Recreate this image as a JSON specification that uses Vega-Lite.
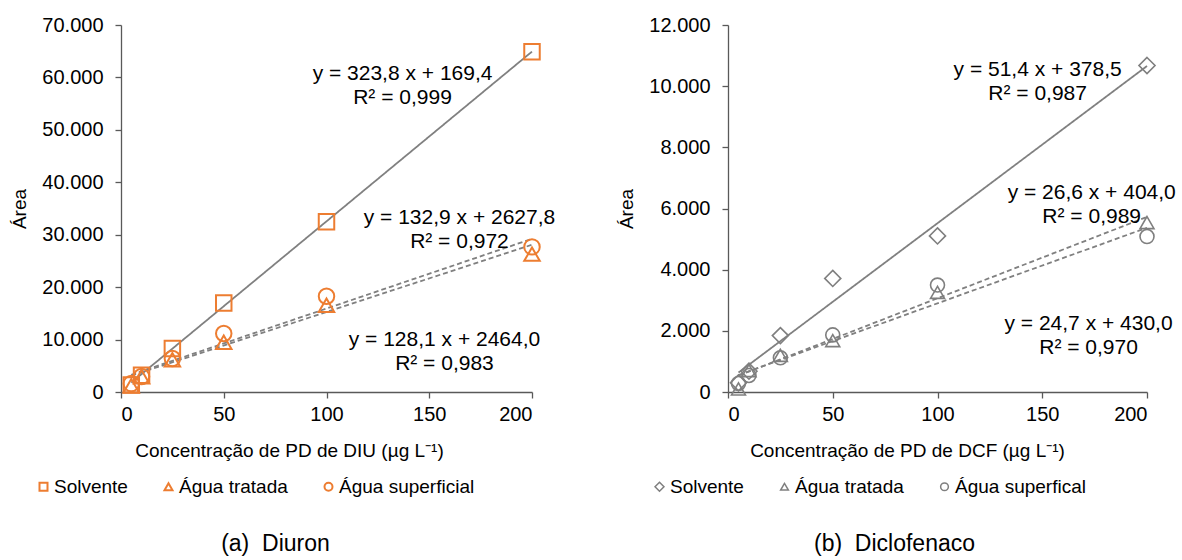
{
  "$schema": "https://vega.github.io/schema/vega-lite/v6.json",
  "background": "white",
  "padding": {"left": 10, "top": 15, "right": 0, "bottom": 0},
  "spacing": 61,
  "resolve": {"scale": {"shape": "independent", "strokeDash": "independent"}, "legend": {"shape": "independent"}},
  "config": {
    "locale": {"number": {"decimal": ",", "thousands": ".", "grouping": [3], "currency": ["", ""]}},
    "font": "Liberation Sans",
    "view": {"stroke": null},
    "axis": {
      "labelFont": "Liberation Sans", "labelFontSize": 20, "labelColor": "#000",
      "titleFont": "Liberation Sans", "titleFontSize": 19, "titleFontWeight": "normal", "titleColor": "#000",
      "domainColor": "#595959", "tickColor": "#595959", "domainWidth": 1.3, "tickWidth": 1.3,
      "tickSize": 6, "grid": false
    },
    "legend": {
      "labelFont": "Liberation Sans", "labelFontSize": 19, "labelColor": "#000",
      "direction": "horizontal", "orient": "none", "columnPadding": 31, "labelOffset": 1
    },
    "title": {"font": "Liberation Sans", "fontSize": 23, "fontWeight": "normal", "color": "#000"}
  },
  "datasets": {
    "diu_pts": [
      {"x": 5, "y": 1340, "serie": "Solvente"},
      {"x": 10, "y": 3190, "serie": "Solvente"},
      {"x": 25, "y": 8290, "serie": "Solvente"},
      {"x": 50, "y": 16990, "serie": "Solvente"},
      {"x": 100, "y": 32450, "serie": "Solvente"},
      {"x": 200, "y": 64900, "serie": "Solvente"},
      {"x": 5, "y": 1200, "serie": "Água tratada"},
      {"x": 10, "y": 2900, "serie": "Água tratada"},
      {"x": 25, "y": 6150, "serie": "Água tratada"},
      {"x": 50, "y": 9500, "serie": "Água tratada"},
      {"x": 100, "y": 16550, "serie": "Água tratada"},
      {"x": 200, "y": 26290, "serie": "Água tratada"},
      {"x": 5, "y": 1600, "serie": "Água superficial"},
      {"x": 10, "y": 2950, "serie": "Água superficial"},
      {"x": 25, "y": 6380, "serie": "Água superficial"},
      {"x": 50, "y": 11150, "serie": "Água superficial"},
      {"x": 100, "y": 18270, "serie": "Água superficial"},
      {"x": 200, "y": 27680, "serie": "Água superficial"}
    ],
    "diu_lines": [
      {"x": 5, "y": 1788.4, "fit": "s", "tipo": "solid"},
      {"x": 200, "y": 64929.4, "fit": "s", "tipo": "solid"},
      {"x": 5, "y": 3104.5, "fit": "t", "tipo": "dashed"},
      {"x": 200, "y": 28084, "fit": "t", "tipo": "dashed"},
      {"x": 5, "y": 3292.3, "fit": "u", "tipo": "dashed"},
      {"x": 200, "y": 29207.8, "fit": "u", "tipo": "dashed"}
    ],
    "diu_eq": [
      {"x": 137, "y": 60650, "label": "y = 323,8 x + 169,4\nR² = 0,999"},
      {"x": 164.7, "y": 33260, "label": "y = 132,9 x + 2627,8\nR² = 0,972"},
      {"x": 157.4, "y": 9870, "label": "y = 128,1 x + 2464,0\nR² = 0,983"}
    ],
    "dcf_pts": [
      {"x": 5, "y": 300, "serie": "Solvente"},
      {"x": 10, "y": 680, "serie": "Solvente"},
      {"x": 25, "y": 1844, "serie": "Solvente"},
      {"x": 50, "y": 3714, "serie": "Solvente"},
      {"x": 100, "y": 5103, "serie": "Solvente"},
      {"x": 200, "y": 10675, "serie": "Solvente"},
      {"x": 5, "y": 100, "serie": "Água tratada"},
      {"x": 10, "y": 700, "serie": "Água tratada"},
      {"x": 25, "y": 1200, "serie": "Água tratada"},
      {"x": 50, "y": 1681, "serie": "Água tratada"},
      {"x": 100, "y": 3258, "serie": "Água tratada"},
      {"x": 200, "y": 5540, "serie": "Água tratada"},
      {"x": 5, "y": 280, "serie": "Água superfical"},
      {"x": 10, "y": 540, "serie": "Água superfical"},
      {"x": 25, "y": 1118, "serie": "Água superfical"},
      {"x": 50, "y": 1867, "serie": "Água superfical"},
      {"x": 100, "y": 3496, "serie": "Água superfical"},
      {"x": 200, "y": 5083, "serie": "Água superfical"}
    ],
    "dcf_lines": [
      {"x": 5, "y": 635.5, "fit": "s", "tipo": "solid"},
      {"x": 200, "y": 10658.5, "fit": "s", "tipo": "solid"},
      {"x": 5, "y": 537, "fit": "t", "tipo": "dashed"},
      {"x": 200, "y": 5724, "fit": "t", "tipo": "dashed"},
      {"x": 5, "y": 553.5, "fit": "u", "tipo": "dashed"},
      {"x": 200, "y": 5370, "fit": "u", "tipo": "dashed"}
    ],
    "dcf_eq": [
      {"x": 147.8, "y": 10518, "label": "y = 51,4 x + 378,5\nR² = 0,987"},
      {"x": 173.6, "y": 6494, "label": "y = 26,6 x + 404,0\nR² = 0,989"},
      {"x": 172.1, "y": 2225, "label": "y = 24,7 x + 430,0\nR² = 0,970"}
    ]
  },
  "hconcat": [
    {
      "width": 411,
      "height": 367,
      "title": {"text": "(a)\u00a0 Diuron", "orient": "bottom", "anchor": "middle", "frame": "group", "dx": -51, "offset": 36},
      "layer": [
        {
          "data": {"name": "diu_lines"},
          "mark": {"type": "line", "color": "#808080", "strokeWidth": 1.8},
          "encoding": {
            "x": {"field": "x", "type": "quantitative", "scale": {"domain": [0, 200], "nice": false},
                  "axis": {"values": [0, 50, 100, 150, 200], "title": "Concentração de PD de DIU (µg L⁻¹)", "labelPadding": 6, "titlePadding": 17, "titleX": 168, "titleAnchor": null}},
            "y": {"field": "y", "type": "quantitative", "scale": {"domain": [0, 70000], "nice": false},
                  "axis": {"values": [0, 10000, 20000, 30000, 40000, 50000, 60000, 70000], "format": ",d", "title": "Área", "labelPadding": 12, "titlePadding": 12}},
            "detail": {"field": "fit"},
            "strokeDash": {"field": "tipo", "type": "nominal", "scale": {"domain": ["solid", "dashed"], "range": [[1, 0], [5, 3]]}, "legend": null}
          }
        },
        {
          "data": {"name": "diu_pts"},
          "mark": {"type": "point", "filled": false, "color": "#ED7D31", "strokeWidth": 2, "opacity": 1, "size": 240},
          "encoding": {
            "x": {"field": "x", "type": "quantitative"},
            "y": {"field": "y", "type": "quantitative"},
            "shape": {"field": "serie", "type": "nominal",
                      "scale": {"domain": ["Solvente", "Água tratada", "Água superficial"], "range": ["square", "triangle-up", "circle"]},
                      "legend": {"title": null, "legendX": -87, "legendY": 452, "symbolSize": 64, "symbolStrokeWidth": 2, "symbolStrokeColor": "#ED7D31", "symbolFillColor": "transparent"}}
          }
        },
        {
          "data": {"name": "diu_eq"},
          "mark": {"type": "text", "fontSize": 21, "lineBreak": "\n", "lineHeight": 24, "align": "center", "baseline": "middle", "color": "#000", "font": "Liberation Sans"},
          "encoding": {
            "x": {"field": "x", "type": "quantitative"},
            "y": {"field": "y", "type": "quantitative"},
            "text": {"field": "label"}
          }
        }
      ]
    },
    {
      "width": 419,
      "height": 367,
      "title": {"text": "(b)\u00a0 Diclofenaco", "orient": "bottom", "anchor": "middle", "frame": "group", "dx": -43, "offset": 36},
      "layer": [
        {
          "data": {"name": "dcf_lines"},
          "mark": {"type": "line", "color": "#808080", "strokeWidth": 1.8},
          "encoding": {
            "x": {"field": "x", "type": "quantitative", "scale": {"domain": [0, 200], "nice": false},
                  "axis": {"values": [0, 50, 100, 150, 200], "title": "Concentração de PD de DCF (µg L⁻¹)", "labelPadding": 6, "titlePadding": 17, "titleX": 179, "titleAnchor": null}},
            "y": {"field": "y", "type": "quantitative", "scale": {"domain": [0, 12000], "nice": false},
                  "axis": {"values": [0, 2000, 4000, 6000, 8000, 10000, 12000], "format": ",d", "title": "Área", "labelPadding": 12, "titlePadding": 12}},
            "detail": {"field": "fit"},
            "strokeDash": {"field": "tipo", "type": "nominal", "scale": {"domain": ["solid", "dashed"], "range": [[1, 0], [5, 3]]}, "legend": null}
          }
        },
        {
          "data": {"name": "dcf_pts"},
          "mark": {"type": "point", "filled": false, "color": "#7F7F7F", "strokeWidth": 1.6, "opacity": 1, "size": 195},
          "encoding": {
            "x": {"field": "x", "type": "quantitative"},
            "y": {"field": "y", "type": "quantitative"},
            "shape": {"field": "serie", "type": "nominal",
                      "scale": {"domain": ["Solvente", "Água tratada", "Água superfical"], "range": ["M0,-1.15L1.15,0L0,1.15L-1.15,0Z", "triangle-up", "circle"]},
                      "legend": {"title": null, "legendX": -78, "legendY": 452, "symbolSize": 60, "symbolStrokeWidth": 1.5, "symbolStrokeColor": "#7F7F7F", "symbolFillColor": "transparent"}}
          }
        },
        {
          "data": {"name": "dcf_eq"},
          "mark": {"type": "text", "fontSize": 21, "lineBreak": "\n", "lineHeight": 24, "align": "center", "baseline": "middle", "color": "#000", "font": "Liberation Sans"},
          "encoding": {
            "x": {"field": "x", "type": "quantitative"},
            "y": {"field": "y", "type": "quantitative"},
            "text": {"field": "label"}
          }
        }
      ]
    }
  ]
}
